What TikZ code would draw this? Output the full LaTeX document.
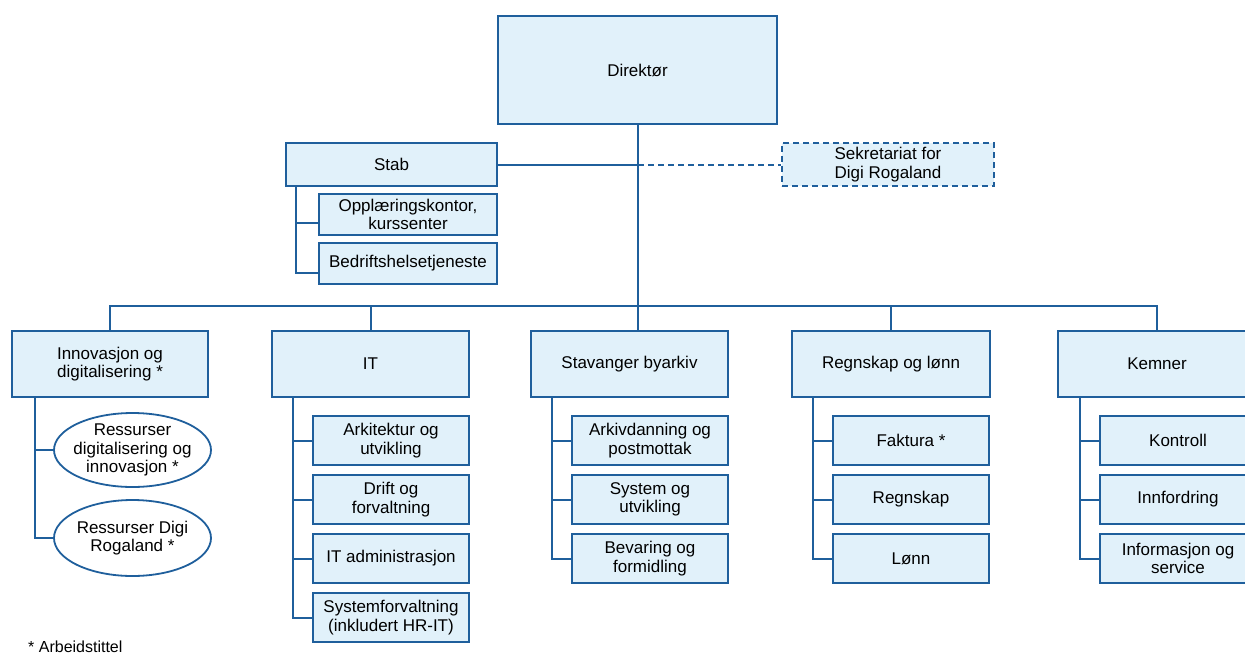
\documentclass[tikz,border=0pt]{standalone}
\usepackage{fontspec}
\setmainfont{Liberation Sans}
\usetikzlibrary{shapes.geometric}
\definecolor{boxfill}{HTML}{E1F1FA}
\definecolor{boxline}{HTML}{1F5F9C}
\tikzset{
  box/.style={draw=boxline, fill=boxfill, line width=1.8pt, align=center, inner sep=1pt,
    font=\fontsize{17}{18.5}\selectfont},
  ell/.style={draw=boxline, fill=white, line width=1.8pt, ellipse, align=center, inner xsep=-10pt, inner ysep=-6pt,
    font=\fontsize{17}{18.5}\selectfont},
  conn/.style={draw=boxline, line width=2pt},
  dashconn/.style={draw=boxline, line width=2pt, dash pattern=on 6pt off 4pt},
}
\begin{document}
\begin{tikzpicture}[x=1pt,y=-1pt]
\useasboundingbox (0,0) rectangle (1245,654);
\begin{scope}
\clip (0,0) rectangle (1245,654);
% top
\node[box, minimum width=279, minimum height=108] (dir) at (637.5,70) {Direktør};
\node[box, minimum width=211, minimum height=43] (stab) at (391.5,164.5) {Stab};
\node[box, dash pattern=on 6pt off 4pt, minimum width=212, minimum height=43] (sekr) at (888,164.5) {Sekretariat for\\Digi Rogaland};
\node[box, minimum width=178, minimum height=41] (opp) at (408,214.5) {Opplæringskontor,\\kurssenter};
\node[box, minimum width=178, minimum height=41] (bed) at (408,263.5) {Bedriftshelsetjeneste};
% level 2
\node[box, minimum width=196, minimum height=66] (inn) at (110,364) {Innovasjon og\\digitalisering *};
\node[box, minimum width=197, minimum height=66] (it) at (370.5,364) {IT};
\node[box, minimum width=197, minimum height=66] (stav) at (629.5,364) {Stavanger byarkiv};
\node[box, minimum width=198, minimum height=66] (regn) at (891,364) {Regnskap og lønn};
\node[box, minimum width=198, minimum height=66] (kem) at (1157,364) {Kemner};
% Innovasjon children
\node[ell, minimum width=157, minimum height=74] (r1) at (132.5,450) {Ressurser\\digitalisering og\\innovasjon *};
\node[ell, minimum width=157, minimum height=76] (r2) at (132.5,538) {Ressurser Digi\\Rogaland *};
% IT children
\node[box, minimum width=156, minimum height=49] (it1) at (391,440.5) {Arkitektur og\\utvikling};
\node[box, minimum width=156, minimum height=49] (it2) at (391,499.5) {Drift og\\forvaltning};
\node[box, minimum width=156, minimum height=49] (it3) at (391,558.5) {IT administrasjon};
\node[box, minimum width=156, minimum height=49] (it4) at (391,617.5) {Systemforvaltning\\(inkludert HR-IT)};
% Stavanger children
\node[box, minimum width=156, minimum height=49] (st1) at (650,440.5) {Arkivdanning og\\postmottak};
\node[box, minimum width=156, minimum height=49] (st2) at (650,499.5) {System og\\utvikling};
\node[box, minimum width=156, minimum height=49] (st3) at (650,558.5) {Bevaring og\\formidling};
% Regnskap children
\node[box, minimum width=156, minimum height=49] (rg1) at (911,440.5) {Faktura *};
\node[box, minimum width=156, minimum height=49] (rg2) at (911,499.5) {Regnskap};
\node[box, minimum width=156, minimum height=49] (rg3) at (911,558.5) {Lønn};
% Kemner children
\node[box, minimum width=156, minimum height=49] (km1) at (1178,440.5) {Kontroll};
\node[box, minimum width=156, minimum height=49] (km2) at (1178,499.5) {Innfordring};
\node[box, minimum width=156, minimum height=49] (km3) at (1178,558.5) {Informasjon og\\service};
\end{scope}
% footnote
\node[anchor=base west, inner sep=0pt, font=\fontsize{16}{18}\selectfont] (fn) at (28,652) {* Arbeidstittel};
% connectors
\coordinate (bus) at (638,306);
\draw[conn] (dir.south -| bus) -- (stav.north -| bus);
\draw[conn] (stab.east) -- (stab.east -| bus);
\draw[dashconn] (stab.east -| bus) -- (sekr.west);
\draw[conn] (inn.north) -- (inn.north |- bus) -- (kem.north |- bus) -- (kem.north);
\draw[conn] (it.north |- bus) -- (it.north);
\draw[conn] (regn.north |- bus) -- (regn.north);
% Stab branch
\coordinate (sv) at (296,0);
\draw[conn] (stab.south -| sv) -- ([yshift=-9]bed.west -| sv) -- ([yshift=-9]bed.west);
\draw[conn] ([yshift=-8]opp.west -| sv) -- ([yshift=-8]opp.west);
% Innovasjon branch
\coordinate (iv) at (35,0);
\draw[conn] (inn.south -| iv) -- (r2.west -| iv) -- (r2.west);
\draw[conn] (r1.west -| iv) -- (r1.west);
% IT branch
\coordinate (itv) at (293,0);
\draw[conn] (it.south -| itv) -- (it4.west -| itv) -- (it4.west);
\draw[conn] (it1.west -| itv) -- (it1.west);
\draw[conn] (it2.west -| itv) -- (it2.west);
\draw[conn] (it3.west -| itv) -- (it3.west);
% Stavanger branch
\coordinate (stv) at (552,0);
\draw[conn] (stav.south -| stv) -- (st3.west -| stv) -- (st3.west);
\draw[conn] (st1.west -| stv) -- (st1.west);
\draw[conn] (st2.west -| stv) -- (st2.west);
% Regnskap branch
\coordinate (rgv) at (813,0);
\draw[conn] (regn.south -| rgv) -- (rg3.west -| rgv) -- (rg3.west);
\draw[conn] (rg1.west -| rgv) -- (rg1.west);
\draw[conn] (rg2.west -| rgv) -- (rg2.west);
% Kemner branch
\coordinate (kmv) at (1080,0);
\draw[conn] (kem.south -| kmv) -- (km3.west -| kmv) -- (km3.west);
\draw[conn] (km1.west -| kmv) -- (km1.west);
\draw[conn] (km2.west -| kmv) -- (km2.west);
\end{tikzpicture}
\end{document}
